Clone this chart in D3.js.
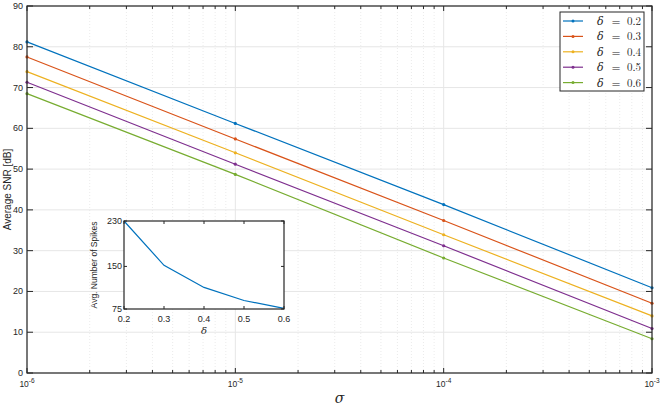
<!DOCTYPE html>
<html>
<head>
<meta charset="utf-8">
<script src="https://cdn.jsdelivr.net/npm/d3@7"></script>
<style>
  body { margin: 0; background: #fff; }
  svg { font-family: "Liberation Sans", Arial, sans-serif; }
</style>
</head>
<body>
<div id="graph"></div>
<script>
var sigmas = [1e-6, 1e-5, 1e-4, 1e-3],
	deltas = ["0.2", "0.3", "0.4", "0.5", "0.6"],
	colors = ["#0072BD", "#D95319", "#EDB120", "#7E2F8E", "#77AC30"],
	snr02 = [81.2, 61.2, 41.3, 20.9],
	snr03 = [77.5, 57.4, 37.4, 17.1],
	snr04 = [73.9, 54.0, 33.9, 14.0],
	snr05 = [71.3, 51.2, 31.2, 10.9],
	snr06 = [68.5, 48.7, 28.2, 8.4],
	yTicks = [0, 10, 20, 30, 40, 50, 60, 70, 80, 90];

var insetDelta = [0.2, 0.3, 0.4, 0.5, 0.6],
	insetSpikes = [230, 152, 113, 90, 76],
	insetYTicks = [75, 150, 230],
	insetXTicks = [0.2, 0.3, 0.4, 0.5, 0.6];

var series = [snr02, snr03, snr04, snr05, snr06];

var W = 663, H = 406,
	margin = {top: 6, right: 11, bottom: 33, left: 27};

var svg = d3.select("#graph").append("svg")
	.attr("width", W).attr("height", H);

var x = d3.scaleLog().domain([1e-6, 1e-3]).range([margin.left, W - margin.right]),
	y = d3.scaleLinear().domain([0, 90]).range([H - margin.bottom, margin.top]);

// minor positions on log axis
var minor = [];
[1e-6, 1e-5, 1e-4].forEach(function(d){
	for (var k = 2; k <= 9; k++) minor.push(d * k);
});

var grid = svg.append("g");
grid.selectAll(".vminor").data(minor).enter().append("line")
	.attr("x1", function(d){ return x(d); }).attr("x2", function(d){ return x(d); })
	.attr("y1", y(0)).attr("y2", y(90))
	.attr("stroke", "#e2e2e2").attr("stroke-width", 0.7).attr("stroke-dasharray", "1,2");
grid.selectAll(".vmajor").data(sigmas).enter().append("line")
	.attr("x1", function(d){ return x(d); }).attr("x2", function(d){ return x(d); })
	.attr("y1", y(0)).attr("y2", y(90))
	.attr("stroke", "#e6e6e6").attr("stroke-width", 1);
grid.selectAll(".hmajor").data(yTicks).enter().append("line")
	.attr("x1", x(1e-6)).attr("x2", x(1e-3))
	.attr("y1", function(d){ return y(d); }).attr("y2", function(d){ return y(d); })
	.attr("stroke", "#e6e6e6").attr("stroke-width", 1);

// lines
var line = d3.line()
	.x(function(d, i){ return x(sigmas[i]); })
	.y(function(d){ return y(d); });

series.forEach(function(s, j){
	svg.append("path").datum(s)
		.attr("d", line).attr("fill", "none")
		.attr("stroke", colors[j]).attr("stroke-width", 1.2);
	svg.selectAll(".pt" + j).data(s).enter().append("circle")
		.attr("cx", function(d, i){ return x(sigmas[i]); })
		.attr("cy", function(d){ return y(d); })
		.attr("r", 1.6).attr("fill", colors[j]);
});

// box + ticks (inward, MATLAB style)
var axisG = svg.append("g").attr("stroke", "#262626").attr("fill", "none");
axisG.append("rect")
	.attr("x", x(1e-6)).attr("y", y(90))
	.attr("width", x(1e-3) - x(1e-6)).attr("height", y(0) - y(90))
	.attr("stroke-width", 1.2);

var allX = sigmas.concat(minor);
allX.forEach(function(d){
	var len = sigmas.indexOf(d) >= 0 ? 5 : 3;
	axisG.append("line").attr("x1", x(d)).attr("x2", x(d))
		.attr("y1", y(0)).attr("y2", y(0) - len);
	axisG.append("line").attr("x1", x(d)).attr("x2", x(d))
		.attr("y1", y(90)).attr("y2", y(90) + len);
});
yTicks.forEach(function(d){
	axisG.append("line").attr("x1", x(1e-6)).attr("x2", x(1e-6) + 6)
		.attr("y1", y(d)).attr("y2", y(d));
	axisG.append("line").attr("x1", x(1e-3)).attr("x2", x(1e-3) - 6)
		.attr("y1", y(d)).attr("y2", y(d));
});

// tick labels
svg.selectAll(".ylab").data(yTicks).enter().append("text")
	.attr("x", x(1e-6) - 4).attr("y", function(d){ return y(d) + 3; })
	.attr("text-anchor", "end").attr("font-size", 9).attr("fill", "#262626")
	.text(function(d){ return d; });

var xl = svg.selectAll(".xlab").data(sigmas).enter().append("text")
	.attr("x", function(d){ return x(d); }).attr("y", y(0) + 14)
	.attr("text-anchor", "middle").attr("font-size", 8.5).attr("fill", "#262626");
xl.append("tspan").text("10");
xl.append("tspan").attr("dy", -4).attr("font-size", 6.5)
	.text(function(d){ return String(Math.round(Math.log10(d))); });

// axis titles
svg.append("text")
	.attr("x", (x(1e-6) + x(1e-3)) / 2).attr("y", H - 3)
	.attr("text-anchor", "middle")
	.attr("font-family", "'DejaVu Serif', 'Liberation Serif', serif")
	.attr("font-style", "italic").attr("font-size", 14).attr("fill", "#262626")
	.text("σ");
svg.append("text")
	.attr("transform", "translate(11," + ((y(0) + y(90)) / 2) + ") rotate(-90)")
	.attr("text-anchor", "middle").attr("font-size", 10).attr("fill", "#262626")
	.text("Average SNR [dB]");

// legend
var leg = svg.append("g").attr("transform", "translate(560,12)");
leg.append("rect").attr("width", 84).attr("height", 79)
	.attr("fill", "#fff").attr("stroke", "#262626").attr("stroke-width", 1);
var legFont = "'Latin Modern Roman', 'DejaVu Serif', 'Liberation Serif', serif";
deltas.forEach(function(dl, j){
	var ly = 9 + j * 15.4;
	leg.append("line").attr("x1", 3).attr("x2", 23).attr("y1", ly).attr("y2", ly)
		.attr("stroke", colors[j]).attr("stroke-width", 1.2);
	leg.append("circle").attr("cx", 13).attr("cy", ly).attr("r", 1.5).attr("fill", colors[j]);
	leg.append("text").attr("x", 37).attr("y", ly + 4)
		.attr("font-family", legFont).attr("font-style", "italic")
		.attr("font-size", 11).attr("fill", "#262626").text("δ");
	leg.append("text").attr("x", 56).attr("y", ly + 4).attr("text-anchor", "middle")
		.attr("font-family", legFont)
		.attr("font-size", 11).attr("fill", "#262626").text("=");
	leg.append("text").attr("x", 81).attr("y", ly + 4).attr("text-anchor", "end")
		.attr("font-family", legFont)
		.attr("font-size", 11).attr("fill", "#262626").text(dl);
});

// inset
var inset = {left: 124, right: 284, top: 221, bottom: 309};
var ix = d3.scaleLinear().domain([0.2, 0.6]).range([inset.left, inset.right]),
	iy = d3.scaleLinear().domain([75, 230]).range([inset.bottom, inset.top]);

var ig = svg.append("g");
ig.append("rect").attr("x", inset.left).attr("y", inset.top)
	.attr("width", inset.right - inset.left).attr("height", inset.bottom - inset.top)
	.attr("fill", "#fff");
ig.append("path").datum(insetSpikes)
	.attr("d", d3.line().x(function(d, i){ return ix(insetDelta[i]); }).y(function(d){ return iy(d); }))
	.attr("fill", "none").attr("stroke", "#0072BD").attr("stroke-width", 1.2);
ig.append("rect").attr("x", inset.left).attr("y", inset.top)
	.attr("width", inset.right - inset.left).attr("height", inset.bottom - inset.top)
	.attr("fill", "none").attr("stroke", "#262626").attr("stroke-width", 1.2);
insetXTicks.forEach(function(d){
	ig.append("line").attr("x1", ix(d)).attr("x2", ix(d))
		.attr("y1", inset.bottom).attr("y2", inset.bottom - 3).attr("stroke", "#262626");
	ig.append("line").attr("x1", ix(d)).attr("x2", ix(d))
		.attr("y1", inset.top).attr("y2", inset.top + 3).attr("stroke", "#262626");
});
insetYTicks.forEach(function(d){
	ig.append("line").attr("x1", inset.left).attr("x2", inset.left + 3)
		.attr("y1", iy(d)).attr("y2", iy(d)).attr("stroke", "#262626");
	ig.append("line").attr("x1", inset.right).attr("x2", inset.right - 3)
		.attr("y1", iy(d)).attr("y2", iy(d)).attr("stroke", "#262626");
});
ig.selectAll(".ixl").data(insetXTicks).enter().append("text")
	.attr("x", function(d){ return ix(d); }).attr("y", inset.bottom + 13)
	.attr("text-anchor", "middle").attr("font-size", 9).attr("fill", "#262626")
	.text(function(d){ return d.toFixed(1); });
ig.selectAll(".iyl").data(insetYTicks).enter().append("text")
	.attr("x", inset.left - 2).attr("y", function(d){ return iy(d) + 3; })
	.attr("text-anchor", "end").attr("font-size", 9).attr("fill", "#262626")
	.text(function(d){ return d; });
ig.append("text")
	.attr("x", (inset.left + inset.right) / 2).attr("y", inset.bottom + 25)
	.attr("text-anchor", "middle")
	.attr("font-family", "'DejaVu Serif', 'Liberation Serif', serif")
	.attr("font-style", "italic").attr("font-size", 10).attr("fill", "#262626")
	.text("δ");
ig.append("text")
	.attr("transform", "translate(97," + ((inset.top + inset.bottom) / 2) + ") rotate(-90)")
	.attr("text-anchor", "middle").attr("font-size", 8.5).attr("fill", "#262626")
	.text("Avg. Number of Spikes");
</script>
</body>
</html>
